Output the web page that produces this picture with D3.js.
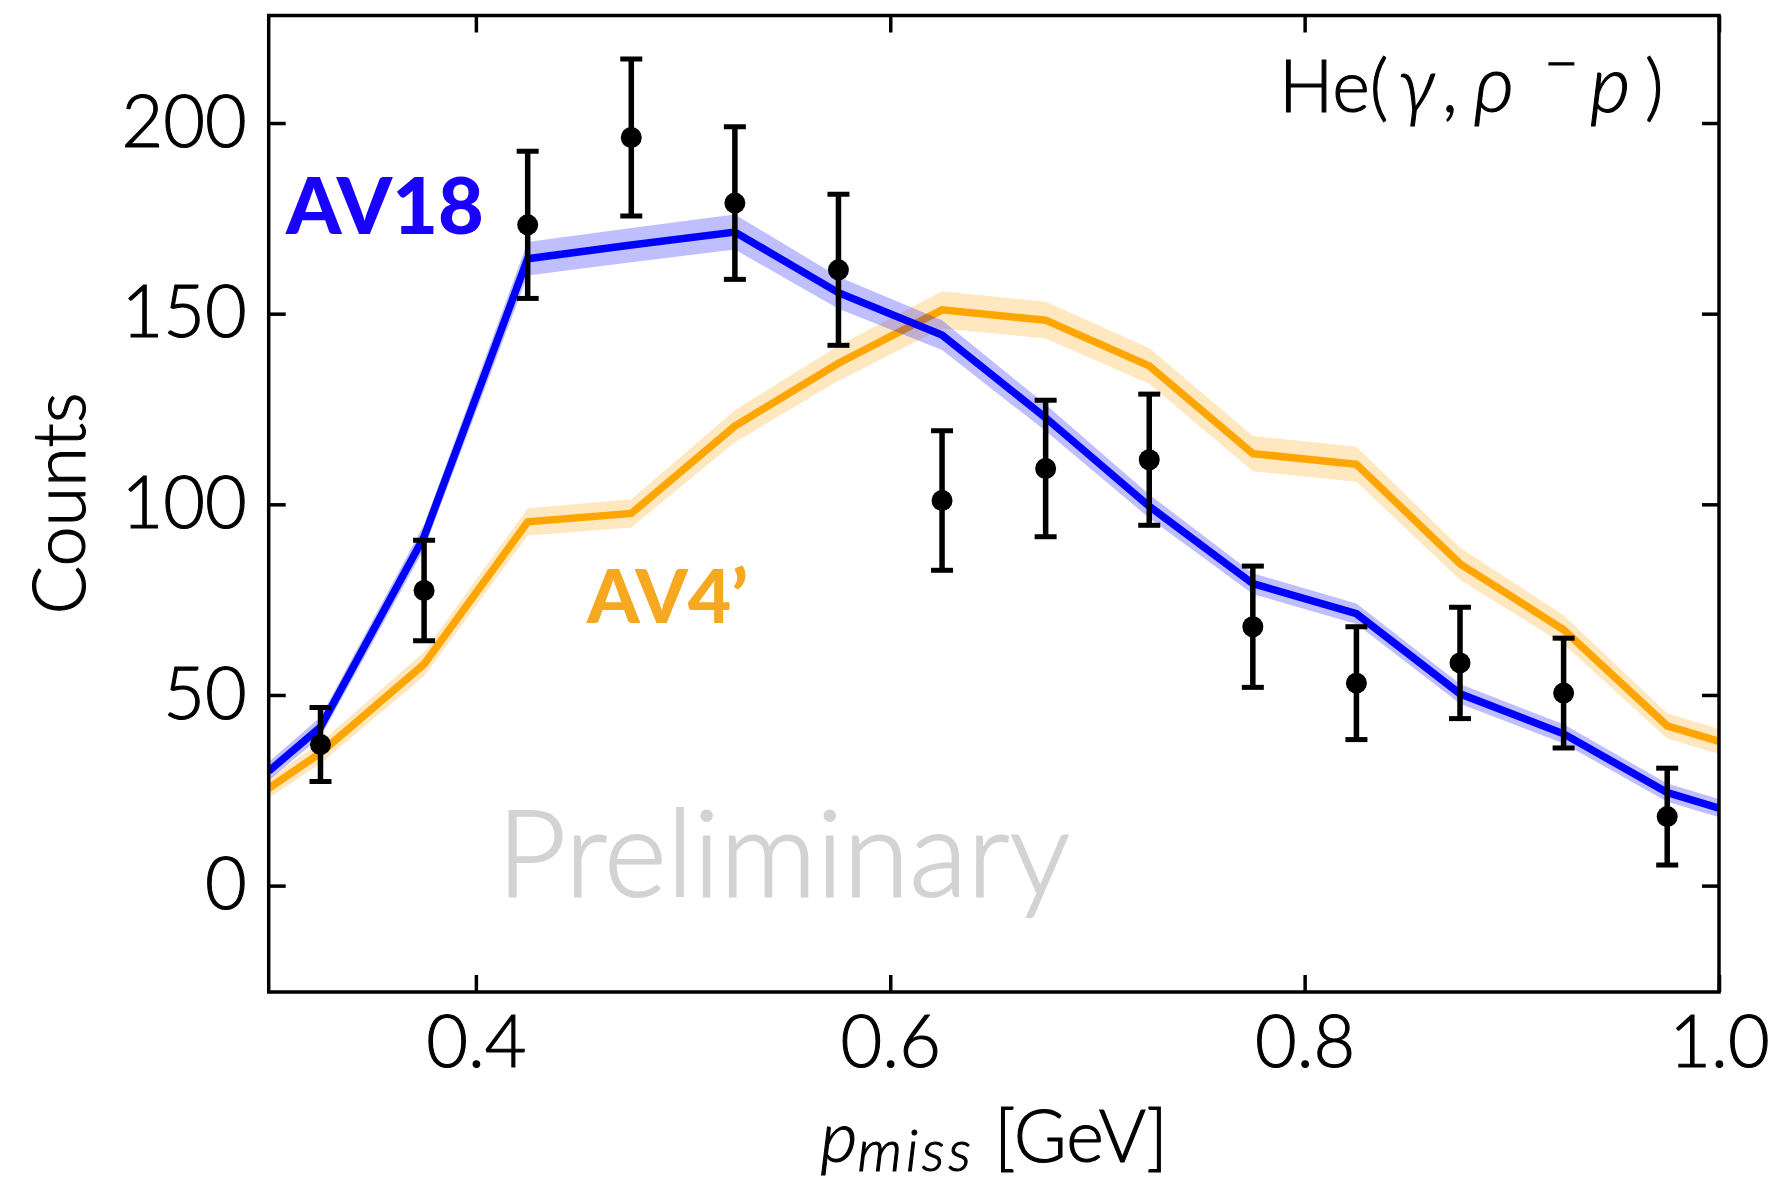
<!DOCTYPE html>
<html>
<head>
<meta charset="utf-8">
<script src="https://cdn.jsdelivr.net/npm/d3@7"></script>
<style>
  html, body { margin: 0; padding: 0; background: #ffffff; }
  svg { display: block; }
  text { font-family: Lato, "Open Sans", "Noto Sans", sans-serif; }
</style>
</head>
<body>
<svg id="chart" width="1778" height="1184"></svg>
<script>
// ---------------- data ----------------
const binCenters = [0.325, 0.375, 0.425, 0.475, 0.525, 0.575, 0.625, 0.675, 0.725, 0.775, 0.825, 0.875, 0.925, 0.975];
const dataCounts = [37, 77.4, 173.3, 196.2, 179, 161.5, 101, 109.4, 111.7, 67.9, 53.1, 58.4, 50.5, 18.1];
const dataErrors = [9.7, 13.2, 19.3, 20.6, 20, 19.8, 18.3, 17.9, 17.2, 15.9, 14.8, 14.6, 14.4, 12.7];

const curveX     = [0.3, 0.325, 0.375, 0.425, 0.475, 0.525, 0.575, 0.625, 0.675, 0.725, 0.775, 0.825, 0.875, 0.925, 0.975, 1.0];
const av18       = [30.0, 41.6, 91.5, 164.4, 168.0, 171.4, 155.5, 144.4, 122.7, 99.5, 79.2, 71.3, 50.3, 39.8, 24.4, 20.3];
const av18Band   = [2.4, 2.6, 3.2, 4.4, 4.5, 4.6, 4.2, 3.9, 3.5, 3.1, 2.7, 2.7, 2.6, 2.5, 2.4, 2.4];
const av4        = [25.5, 34.8, 58.1, 95.4, 97.6, 120.5, 137.0, 151.0, 148.3, 136.3, 113.3, 110.5, 84.4, 67.1, 41.9, 37.8];
const av4Band    = [2.6, 2.8, 3.2, 3.6, 3.7, 4.2, 4.6, 4.9, 4.8, 4.7, 4.6, 4.6, 4.2, 3.8, 3.3, 3.3];

const xTicks = [0.4, 0.6, 0.8, 1.0];
const xTickLabels = ["0.4", "0.6", "0.8", "1.0"];
const yTicks = [0, 50, 100, 150, 200];
const yTickLabels = ["0", "50", "100", "150", "200"];

// ---------------- layout ----------------
const svg = d3.select("#chart");
const L = 268.7, R = 1719, T = 15.5, B = 992;
const x = d3.scaleLinear().domain([0.3, 1.0]).range([L, R]);
const y = d3.scaleLinear().domain([-27.9, 228.2]).range([B, T]);
const thin = 1.1; // slight stroke to thicken the light face

svg.append("defs").append("clipPath").attr("id", "plotclip")
  .append("rect").attr("x", L).attr("y", T).attr("width", R - L).attr("height", B - T);

// watermark
svg.append("text")
  .attr("x", 497).attr("y", 896)
  .attr("font-size", 120)
  .attr("font-weight", 300)
  .attr("fill", "#d3d3d3").attr("stroke", "#d3d3d3").attr("stroke-width", 1.8)
  .text("Preliminary");

const plot = svg.append("g").attr("clip-path", "url(#plotclip)");

function drawModel(vals, band, color, bandColor) {
  const pts = curveX.map((cx, i) => ({x: cx, v: vals[i], e: band[i]}));
  plot.append("path")
    .datum(pts)
    .attr("d", d3.area().x(d => x(d.x)).y0(d => y(d.v - d.e)).y1(d => y(d.v + d.e)))
    .attr("fill", bandColor).attr("fill-opacity", 0.25).attr("stroke", "none");
  plot.append("path")
    .datum(pts)
    .attr("d", d3.line().x(d => x(d.x)).y(d => y(d.v)))
    .attr("fill", "none").attr("stroke", color).attr("stroke-width", 7.5)
    .attr("stroke-linejoin", "miter");
}
drawModel(av4, av4Band, "#ffa500", "#ffa500");
drawModel(av18, av18Band, "#0000ff", "#0000ff");

// data points with error bars
const pts = binCenters.map((c, i) => ({x: c, v: dataCounts[i], e: dataErrors[i]}));
const eb = plot.append("g");
eb.selectAll("line.stem").data(pts).join("line")
  .attr("x1", d => x(d.x)).attr("x2", d => x(d.x))
  .attr("y1", d => y(d.v - d.e)).attr("y2", d => y(d.v + d.e))
  .attr("stroke", "#000").attr("stroke-width", 5.5);
["lo", "hi"].forEach(k => {
  eb.selectAll("line.cap" + k).data(pts).join("line")
    .attr("x1", d => x(d.x) - 11).attr("x2", d => x(d.x) + 11)
    .attr("y1", d => y(k === "lo" ? d.v - d.e : d.v + d.e))
    .attr("y2", d => y(k === "lo" ? d.v - d.e : d.v + d.e))
    .attr("stroke", "#000").attr("stroke-width", 5);
});
eb.selectAll("circle").data(pts).join("circle")
  .attr("cx", d => x(d.x)).attr("cy", d => y(d.v)).attr("r", 10.5).attr("fill", "#000");

// axes
const fs = 72;
const axB = d3.axisBottom(x).tickValues(xTicks).tickFormat((d, i) => xTickLabels[i])
  .tickSizeInner(-17).tickSizeOuter(0).tickPadding(24);
const axT = d3.axisTop(x).tickValues(xTicks).tickFormat("").tickSizeInner(-17).tickSizeOuter(0);
const axL = d3.axisLeft(y).tickValues(yTicks).tickFormat((d, i) => yTickLabels[i])
  .tickSizeInner(-17).tickSizeOuter(0).tickPadding(22);
const axRt = d3.axisRight(y).tickValues(yTicks).tickFormat("").tickSizeInner(-17).tickSizeOuter(0);

function styleAxis(g) {
  g.select(".domain").remove();
  g.selectAll(".tick line").attr("stroke", "#000").attr("stroke-width", 3.5);
  g.selectAll(".tick text").attr("font-size", fs).attr("fill", "#000")
    .attr("font-weight", 300).attr("stroke", "#000").attr("stroke-width", thin)
    .attr("font-family", "Lato, 'Open Sans', sans-serif");
}
svg.append("g").attr("transform", `translate(0,${B})`).call(axB).call(styleAxis);
svg.append("g").attr("transform", `translate(0,${T})`).call(axT).call(styleAxis);
svg.append("g").attr("transform", `translate(${L},0)`).call(axL).call(styleAxis);
svg.append("g").attr("transform", `translate(${R},0)`).call(axRt).call(styleAxis);

svg.append("rect").attr("x", L).attr("y", T).attr("width", R - L).attr("height", B - T)
  .attr("fill", "none").attr("stroke", "#000").attr("stroke-width", 3.5);

// model labels
svg.append("text").attr("x", 286).attr("y", 234)
  .attr("font-size", 79).attr("font-weight", 900).attr("fill", "#1a00ff").text("AV18");
svg.append("text").attr("x", 587).attr("y", 623)
  .attr("font-size", 75).attr("font-weight", 900).attr("fill", "#f6a821").text("AV4\u2019");

// reaction title (pieces placed like the mathtext layout)
const title = svg.append("text").attr("y", 112)
  .attr("font-size", fs).attr("font-weight", 300).attr("fill", "#000")
  .attr("stroke", "#000").attr("stroke-width", thin);
title.append("tspan").attr("x", 1279).text("He(");
title.append("tspan").attr("x", 1398).attr("font-style", "italic").attr("font-size", 76).text("\u03b3");
title.append("tspan").attr("x", 1442).text(",");
title.append("tspan").attr("x", 1474).attr("font-style", "italic").attr("font-size", 78).text("\u03c1");
title.append("tspan").attr("x", 1544).attr("dy", -28).attr("font-size", 60).text("\u2212");
title.append("tspan").attr("x", 1590).attr("dy", 28).attr("font-style", "italic").attr("font-size", 78).text("p");
title.append("tspan").attr("x", 1645).text(")");

// axis titles
const xl = svg.append("text").attr("x", 994).attr("y", 1162)
  .attr("font-size", fs).attr("font-weight", 300).attr("text-anchor", "middle").attr("fill", "#000")
  .attr("stroke", "#000").attr("stroke-width", thin);
xl.append("tspan").attr("font-style", "italic").text("p");
xl.append("tspan").attr("font-style", "italic").attr("font-size", 57).attr("letter-spacing", 4)
  .attr("dy", 9).text("miss");
xl.append("tspan").attr("dy", -9).attr("letter-spacing", 0).text(" [GeV]");

svg.append("text").attr("transform", "translate(85,503.5) rotate(-90)")
  .attr("font-size", fs).attr("font-weight", 300).attr("text-anchor", "middle").attr("fill", "#000")
  .attr("stroke", "#000").attr("stroke-width", thin).text("Counts");
</script>
</body>
</html>
